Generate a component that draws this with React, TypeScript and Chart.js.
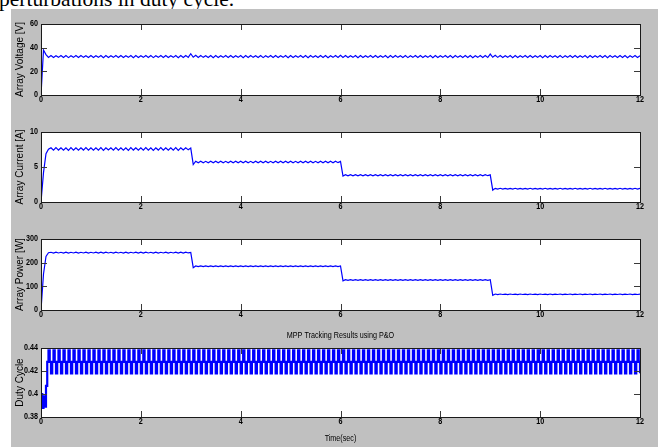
import React, { useEffect, useRef } from "react";
import { Chart, registerables } from "chart.js";

Chart.register(...registerables);

// ---------------- data ----------------
const TIME_STEP = 0.05; // seconds between samples of voltage/current/power
const DUTY_STEP = 0.025; // seconds between samples of duty cycle

const X_TICKS = [0, 2, 4, 6, 8, 10, 12];
const VOLT_TICKS = [0, 20, 40, 60];
const CURR_TICKS = [0, 5, 10];
const POW_TICKS = [0, 100, 200, 300];
const DUTY_TICKS = [0.38, 0.4, 0.42, 0.44];

const VOLTAGE = [
  0, 38.0, 34.2, 31.8, 33.3, 31.7, 33.2, 31.8, 33.4, 31.7, 33.3, 31.6, 33.2, 31.8, 33.3, 31.7, 33.4, 31.8, 33.2, 31.7,
  33.3, 31.7, 33.2, 31.8, 33.4, 31.6, 33.3, 31.7, 33.2, 31.8, 33.3, 31.7, 33.4, 31.7, 33.2, 31.8, 33.3, 31.6, 33.3, 31.7,
  33.2, 31.8, 33.4, 31.7, 33.3, 31.6, 33.2, 31.8, 33.3, 31.7, 33.4, 31.7, 33.2, 31.8, 33.3, 31.6, 33.3, 31.7, 33.4, 31.8,
  34.9, 31.9, 33.5, 31.7, 33.3, 31.8, 33.2, 31.7, 33.4, 31.6, 33.3, 31.7, 33.2, 31.8, 33.3, 31.7, 33.4, 31.7, 33.2, 31.8,
  33.3, 31.6, 33.3, 31.7, 33.4, 31.8, 33.2, 31.7, 33.3, 31.6, 33.2, 31.8, 33.4, 31.7, 33.3, 31.7, 33.2, 31.8, 33.3, 31.6,
  33.4, 31.7, 33.2, 31.8, 33.3, 31.7, 33.3, 31.6, 33.4, 31.8, 33.2, 31.7, 33.3, 31.7, 33.4, 31.6, 33.2, 31.8, 33.3, 31.7,
  33.6, 31.8, 33.3, 31.7, 33.2, 31.8, 33.4, 31.6, 33.3, 31.7, 33.2, 31.8, 33.3, 31.7, 33.4, 31.7, 33.2, 31.8, 33.3, 31.6,
  33.3, 31.7, 33.4, 31.8, 33.2, 31.7, 33.3, 31.6, 33.2, 31.8, 33.4, 31.7, 33.3, 31.7, 33.2, 31.8, 33.3, 31.6, 33.4, 31.7,
  33.2, 31.8, 33.3, 31.7, 33.3, 31.6, 33.4, 31.8, 33.2, 31.7, 33.3, 31.7, 33.4, 31.6, 33.2, 31.8, 33.3, 31.7, 33.3, 31.7,
  34.6, 31.9, 33.5, 31.8, 33.3, 31.7, 33.2, 31.8, 33.4, 31.6, 33.3, 31.7, 33.2, 31.8, 33.3, 31.7, 33.4, 31.7, 33.2, 31.8,
  33.3, 31.6, 33.3, 31.7, 33.4, 31.8, 33.2, 31.7, 33.3, 31.6, 33.2, 31.8, 33.4, 31.7, 33.3, 31.7, 33.2, 31.8, 33.3, 31.6,
  33.4, 31.7, 33.2, 31.8, 33.3, 31.7, 33.3, 31.6, 33.4, 31.8, 33.2, 31.7, 33.3, 31.7, 33.4, 31.6, 33.2, 31.8, 33.3, 31.7,
  33.2,
];

const CURRENT = [
  0, 4.2, 6.9, 7.55, 7.75, 7.4, 7.76, 7.42, 7.74, 7.4, 7.75, 7.38, 7.76, 7.41, 7.75, 7.4, 7.74, 7.42, 7.76, 7.4,
  7.75, 7.41, 7.74, 7.4, 7.76, 7.38, 7.75, 7.42, 7.74, 7.4, 7.76, 7.41, 7.75, 7.4, 7.74, 7.38, 7.76, 7.42, 7.75, 7.4,
  7.74, 7.41, 7.76, 7.4, 7.75, 7.38, 7.74, 7.42, 7.76, 7.4, 7.75, 7.41, 7.74, 7.4, 7.76, 7.38, 7.75, 7.42, 7.74, 7.45,
  7.7, 5.35, 5.82, 5.6, 5.83, 5.61, 5.81, 5.6, 5.82, 5.59, 5.83, 5.61, 5.82, 5.6, 5.81, 5.6, 5.83, 5.61, 5.82, 5.59,
  5.82, 5.6, 5.83, 5.61, 5.81, 5.6, 5.82, 5.59, 5.83, 5.61, 5.82, 5.6, 5.81, 5.6, 5.83, 5.61, 5.82, 5.59, 5.82, 5.6,
  5.83, 5.61, 5.81, 5.6, 5.82, 5.59, 5.83, 5.61, 5.82, 5.6, 5.81, 5.6, 5.83, 5.61, 5.82, 5.59, 5.82, 5.6, 5.83, 5.62,
  5.8, 3.7, 3.9, 3.74, 3.91, 3.75, 3.9, 3.74, 3.89, 3.75, 3.91, 3.74, 3.9, 3.75, 3.9, 3.74, 3.91, 3.75, 3.89, 3.74,
  3.9, 3.75, 3.91, 3.74, 3.9, 3.75, 3.89, 3.74, 3.91, 3.75, 3.9, 3.74, 3.9, 3.75, 3.91, 3.74, 3.89, 3.75, 3.9, 3.74,
  3.91, 3.75, 3.9, 3.74, 3.89, 3.75, 3.91, 3.74, 3.9, 3.75, 3.9, 3.74, 3.91, 3.75, 3.89, 3.74, 3.9, 3.75, 3.91, 3.76,
  3.88, 1.7, 1.95, 1.84, 1.96, 1.85, 1.95, 1.84, 1.94, 1.85, 1.96, 1.84, 1.95, 1.85, 1.95, 1.84, 1.96, 1.85, 1.94, 1.84,
  1.95, 1.85, 1.96, 1.84, 1.95, 1.85, 1.94, 1.84, 1.96, 1.85, 1.95, 1.84, 1.95, 1.85, 1.96, 1.84, 1.94, 1.85, 1.95, 1.84,
  1.96, 1.85, 1.95, 1.84, 1.94, 1.85, 1.96, 1.84, 1.95, 1.85, 1.95, 1.84, 1.96, 1.85, 1.94, 1.84, 1.95, 1.85, 1.96, 1.84,
  1.95,
];

const POWER = [
  0, 152, 226, 242, 244, 240.5, 244.5, 241, 244, 240.5, 244.5, 240.5, 244, 241, 244.5, 240.5, 244, 241, 244.5, 240.5,
  244, 241, 244.5, 240.5, 244, 240.5, 244.5, 241, 244, 240.5, 244.5, 241, 244, 240.5, 244.5, 240.5, 244, 241, 244.5, 240.5,
  244, 240.5, 244.5, 241, 244, 240.5, 244.5, 240.5, 244, 241, 244.5, 240.5, 244, 241, 244.5, 240.5, 244, 240.5, 244.5, 241,
  243, 179, 186, 183.5, 186.5, 183, 186, 183.5, 186.5, 183, 186, 183.5, 186.5, 183.5, 186, 183, 186.5, 183.5, 186, 183,
  186.5, 183.5, 186, 183, 186.5, 183.5, 186, 183.5, 186.5, 183, 186, 183.5, 186.5, 183, 186, 183.5, 186.5, 183.5, 186, 183,
  186.5, 183.5, 186, 183, 186.5, 183.5, 186, 183.5, 186.5, 183, 186, 183.5, 186.5, 183, 186, 183.5, 186.5, 183.5, 186, 183.5,
  186, 123, 128, 125.5, 128.5, 125.5, 128, 125, 128.5, 125.5, 128, 125.5, 128.5, 125, 128, 125.5, 128.5, 125.5, 128, 125,
  128.5, 125.5, 128, 125.5, 128.5, 125, 128, 125.5, 128.5, 125.5, 128, 125, 128.5, 125.5, 128, 125.5, 128.5, 125, 128, 125.5,
  128.5, 125.5, 128, 125, 128.5, 125.5, 128, 125.5, 128.5, 125, 128, 125.5, 128.5, 125.5, 128, 125, 128.5, 125.5, 128, 125.5,
  128, 62, 67.5, 65, 67.5, 65.5, 67, 65, 67.5, 65.5, 67, 65, 67.5, 65.5, 67, 65, 67.5, 65.5, 67, 65,
  67.5, 65.5, 67, 65, 67.5, 65, 67, 65.5, 67.5, 65, 67, 65.5, 67.5, 65, 67, 65.5, 67.5, 65, 67, 65.5,
  67.5, 65, 67, 65.5, 67.5, 65, 67, 65.5, 67.5, 65, 67, 65.5, 67.5, 65, 67, 65.5, 67.5, 65, 67, 65.5,
  67,
];

const DUTY = [
  0.4, 0.388, 0.398, 0.389, 0.407, 0.428, 0.438, 0.428, 0.418, 0.428, 0.438, 0.428, 0.418, 0.428, 0.438, 0.428, 0.418, 0.428, 0.438, 0.428,
  0.418, 0.428, 0.438, 0.428, 0.418, 0.428, 0.438, 0.428, 0.418, 0.428, 0.438, 0.428, 0.418, 0.428, 0.438, 0.428, 0.418, 0.428, 0.438, 0.428,
  0.418, 0.428, 0.438, 0.428, 0.418, 0.428, 0.438, 0.428, 0.418, 0.428, 0.438, 0.428, 0.418, 0.428, 0.438, 0.428, 0.418, 0.428, 0.438, 0.428,
  0.418, 0.428, 0.438, 0.428, 0.418, 0.428, 0.438, 0.428, 0.418, 0.428, 0.438, 0.428, 0.418, 0.428, 0.438, 0.428, 0.418, 0.428, 0.438, 0.428,
  0.418, 0.428, 0.438, 0.428, 0.418, 0.428, 0.438, 0.428, 0.418, 0.428, 0.438, 0.428, 0.418, 0.428, 0.438, 0.428, 0.418, 0.428, 0.438, 0.428,
  0.418, 0.428, 0.438, 0.428, 0.418, 0.428, 0.438, 0.428, 0.418, 0.428, 0.438, 0.428, 0.418, 0.428, 0.438, 0.428, 0.418, 0.428, 0.438, 0.428,
  0.418, 0.428, 0.438, 0.428, 0.418, 0.428, 0.438, 0.428, 0.418, 0.428, 0.438, 0.428, 0.418, 0.428, 0.438, 0.428, 0.418, 0.428, 0.438, 0.428,
  0.418, 0.428, 0.438, 0.428, 0.418, 0.428, 0.438, 0.428, 0.418, 0.428, 0.438, 0.428, 0.418, 0.428, 0.438, 0.428, 0.418, 0.428, 0.438, 0.428,
  0.418, 0.428, 0.438, 0.428, 0.418, 0.428, 0.438, 0.428, 0.418, 0.428, 0.438, 0.428, 0.418, 0.428, 0.438, 0.428, 0.418, 0.428, 0.438, 0.428,
  0.418, 0.428, 0.438, 0.428, 0.418, 0.428, 0.438, 0.428, 0.418, 0.428, 0.438, 0.428, 0.418, 0.428, 0.438, 0.428, 0.418, 0.428, 0.438, 0.428,
  0.418, 0.428, 0.438, 0.428, 0.418, 0.428, 0.438, 0.428, 0.418, 0.428, 0.438, 0.428, 0.418, 0.428, 0.438, 0.428, 0.418, 0.428, 0.438, 0.428,
  0.418, 0.428, 0.438, 0.428, 0.418, 0.428, 0.438, 0.428, 0.418, 0.428, 0.438, 0.428, 0.418, 0.428, 0.438, 0.428, 0.418, 0.428, 0.438, 0.428,
  0.418, 0.428, 0.438, 0.428, 0.418, 0.428, 0.438, 0.428, 0.418, 0.428, 0.438, 0.428, 0.418, 0.428, 0.438, 0.428, 0.418, 0.428, 0.438, 0.428,
  0.418, 0.428, 0.438, 0.428, 0.418, 0.428, 0.438, 0.428, 0.418, 0.428, 0.438, 0.428, 0.418, 0.428, 0.438, 0.428, 0.418, 0.428, 0.438, 0.428,
  0.418, 0.428, 0.438, 0.428, 0.418, 0.428, 0.438, 0.428, 0.418, 0.428, 0.438, 0.428, 0.418, 0.428, 0.438, 0.428, 0.418, 0.428, 0.438, 0.428,
  0.418, 0.428, 0.438, 0.428, 0.418, 0.428, 0.438, 0.428, 0.418, 0.428, 0.438, 0.428, 0.418, 0.428, 0.438, 0.428, 0.418, 0.428, 0.438, 0.428,
  0.418, 0.428, 0.438, 0.428, 0.418, 0.428, 0.438, 0.428, 0.418, 0.428, 0.438, 0.428, 0.418, 0.428, 0.438, 0.428, 0.418, 0.428, 0.438, 0.428,
  0.418, 0.428, 0.438, 0.428, 0.418, 0.428, 0.438, 0.428, 0.418, 0.428, 0.438, 0.428, 0.418, 0.428, 0.438, 0.428, 0.418, 0.428, 0.438, 0.428,
  0.418, 0.428, 0.438, 0.428, 0.418, 0.428, 0.438, 0.428, 0.418, 0.428, 0.438, 0.428, 0.418, 0.428, 0.438, 0.428, 0.418, 0.428, 0.438, 0.428,
  0.418, 0.428, 0.438, 0.428, 0.418, 0.428, 0.438, 0.428, 0.418, 0.428, 0.438, 0.428, 0.418, 0.428, 0.438, 0.428, 0.418, 0.428, 0.438, 0.428,
  0.418, 0.428, 0.438, 0.428, 0.418, 0.428, 0.438, 0.428, 0.418, 0.428, 0.438, 0.428, 0.418, 0.428, 0.438, 0.428, 0.418, 0.428, 0.438, 0.428,
  0.418, 0.428, 0.438, 0.428, 0.418, 0.428, 0.438, 0.428, 0.418, 0.428, 0.438, 0.428, 0.418, 0.428, 0.438, 0.428, 0.418, 0.428, 0.438, 0.428,
  0.418, 0.428, 0.438, 0.428, 0.418, 0.428, 0.438, 0.428, 0.418, 0.428, 0.438, 0.428, 0.418, 0.428, 0.438, 0.428, 0.418, 0.428, 0.438, 0.428,
  0.418, 0.428, 0.438, 0.428, 0.418, 0.428, 0.438, 0.428, 0.418, 0.428, 0.438, 0.428, 0.418, 0.428, 0.438, 0.428, 0.418, 0.428, 0.438, 0.428,
  0.418,
];

const Y_TITLES = ["Array Voltage [V]", "Array Current [A]", "Array Power [W]", "Duty Cycle"];
const PLOT_TITLE = "MPP Tracking Results using P&O";
const X_TITLE = "Time(sec)";
const HEADER_TEXT = "perturbations in duty cycle.";

// ---------------- layout / style ----------------
const SANS = 'Arial, "Liberation Sans", sans-serif';
const TICK_FONT = 'bold 9px Arial, "Liberation Sans", sans-serif';
const LABEL_FONT = '9px Arial, "Liberation Sans", sans-serif';
const NARROW_SCALE = 0.8;
const FIG_LEFT = 11;
const FIG_TOP = 9;
const FIG_RIGHT = 658;
const AX_LEFT = 41;
const AX_RIGHT = 640;
const Y_SCALE_W = 28;

type Panel = {
  values: number[];
  step: number;
  yTicks: number[];
  yTitle: string;
  axTop: number;
  axBottom: number;
  stepped?: boolean;
  title?: string;
  xTitle?: string;
  lineWidth: number;
};

const PANELS: Panel[] = [
  { values: VOLTAGE, step: TIME_STEP, yTicks: VOLT_TICKS, yTitle: Y_TITLES[0], axTop: 24, axBottom: 95, lineWidth: 1.2 },
  { values: CURRENT, step: TIME_STEP, yTicks: CURR_TICKS, yTitle: Y_TITLES[1], axTop: 132, axBottom: 202, lineWidth: 1.2 },
  { values: POWER, step: TIME_STEP, yTicks: POW_TICKS, yTitle: Y_TITLES[2], axTop: 239, axBottom: 310, lineWidth: 1.2 },
  {
    values: DUTY, step: DUTY_STEP, yTicks: DUTY_TICKS, yTitle: Y_TITLES[3], axTop: 348, axBottom: 417,
    stepped: true, title: PLOT_TITLE, xTitle: X_TITLE, lineWidth: 2.2,
  },
];

function drawNarrowText(ctx: CanvasRenderingContext2D, text: string, x: number, y: number, align: CanvasTextAlign, font: string) {
  ctx.save();
  ctx.translate(x, y);
  ctx.scale(NARROW_SCALE, 1);
  ctx.font = font;
  ctx.textAlign = align;
  ctx.textBaseline = "middle";
  ctx.fillStyle = "#000";
  ctx.fillText(text, 0, 0);
  ctx.restore();
}

const matlabAxes = {
  id: "matlabAxes",
  beforeDraw(chart: any) {
    const { ctx, chartArea: a } = chart;
    ctx.save();
    ctx.fillStyle = "#ffffff";
    ctx.fillRect(a.left, a.top, a.right - a.left, a.bottom - a.top);
    ctx.restore();
  },
  afterDatasetsDraw(chart: any, _args: any, opts: any) {
    const { ctx, chartArea: a, scales } = chart;
    const len = 6;
    ctx.save();
    ctx.strokeStyle = "#3a3a3a";
    ctx.lineWidth = 1;
    ctx.beginPath();
    for (const t of scales.x.ticks) {
      const px = Math.round(scales.x.getPixelForValue(t.value)) + 0.5;
      ctx.moveTo(px, a.bottom);
      ctx.lineTo(px, a.bottom - len);
      ctx.moveTo(px, a.top);
      ctx.lineTo(px, a.top + len);
    }
    for (const t of scales.y.ticks) {
      const py = Math.round(scales.y.getPixelForValue(t.value)) + 0.5;
      ctx.moveTo(a.left, py);
      ctx.lineTo(a.left + len, py);
      ctx.moveTo(a.right, py);
      ctx.lineTo(a.right - len, py);
    }
    ctx.stroke();
    ctx.strokeStyle = "#1a1a1a";
    ctx.strokeRect(
      Math.round(a.left) + 0.5,
      Math.round(a.top) + 0.5,
      Math.round(a.right) - Math.round(a.left),
      Math.round(a.bottom) - Math.round(a.top)
    );
    ctx.restore();

    // tick labels (condensed, bold, like the MATLAB figure)
    for (const t of scales.x.ticks) {
      const px = scales.x.getPixelForValue(t.value);
      drawNarrowText(ctx, String(t.value), px, a.bottom + 5, "center", TICK_FONT);
    }
    for (const t of scales.y.ticks) {
      const py = scales.y.getPixelForValue(t.value);
      drawNarrowText(ctx, String(t.value), a.left - 3, py, "right", TICK_FONT);
    }
    const cx = (a.left + a.right) / 2;
    if (opts && opts.title) drawNarrowText(ctx, opts.title, cx, a.top - 12, "center", LABEL_FONT);
    if (opts && opts.xTitle) drawNarrowText(ctx, opts.xTitle, cx, a.bottom + 22, "center", LABEL_FONT);
  },
};

function PanelChart({ p }: { p: Panel }) {
  const ref = useRef<HTMLCanvasElement | null>(null);
  const padTop = p.title ? 24 : 12;
  const xH = p.xTitle ? 30 : 26;
  const width = FIG_RIGHT - FIG_LEFT;
  const top = p.axTop - padTop;
  const height = padTop + (p.axBottom - p.axTop) + xH;

  useEffect(() => {
    if (!ref.current) return;
    const yMin = p.yTicks[0];
    const yMax = p.yTicks[p.yTicks.length - 1];
    const chart = new Chart(ref.current, {
      type: "line",
      data: {
        datasets: [
          {
            data: p.values.map((y, i) => ({ x: i * p.step, y })),
            borderColor: "#0000ff",
            borderWidth: p.lineWidth,
            pointRadius: 0,
            fill: false,
            tension: 0,
            stepped: p.stepped ? "before" : false,
          } as any,
        ],
      },
      options: {
        animation: false,
        responsive: false,
        events: [],
        layout: {
          padding: {
            left: AX_LEFT - FIG_LEFT - Y_SCALE_W,
            right: FIG_RIGHT - AX_RIGHT,
            top: padTop,
            bottom: 0,
          },
        },
        plugins: {
          legend: { display: false },
          tooltip: { enabled: false },
          title: { display: false },
          matlabAxes: { title: p.title, xTitle: p.xTitle },
        },
        scales: {
          x: {
            type: "linear",
            min: 0,
            max: 12,
            afterBuildTicks: (s: any) => {
              s.ticks = X_TICKS.map((v) => ({ value: v }));
            },
            afterFit: (s: any) => {
              s.height = xH;
            },
            grid: { display: false, drawTicks: false },
            border: { display: false },
            ticks: { display: false },
          },
          y: {
            type: "linear",
            min: yMin,
            max: yMax,
            afterBuildTicks: (s: any) => {
              s.ticks = p.yTicks.map((v) => ({ value: v }));
            },
            afterFit: (s: any) => {
              s.width = Y_SCALE_W;
            },
            grid: { display: false, drawTicks: false },
            border: { display: false },
            ticks: { display: false },
            title: {
              display: true,
              text: p.yTitle,
              color: "#000",
              font: { family: SANS, size: 10 },
              padding: { top: 1.5, bottom: 0 },
            },
          },
        },
      } as any,
      plugins: [matlabAxes],
    });
    return () => chart.destroy();
  }, []);

  return (
    <canvas
      ref={ref}
      width={width}
      height={height}
      style={{ position: "absolute", left: FIG_LEFT, top, width, height }}
    />
  );
}

export default function App() {
  return (
    <div
      style={{
        position: "fixed",
        left: 0,
        top: 0,
        width: 668,
        height: 447,
        overflow: "hidden",
        background: "#ffffff",
      }}
    >
      <div
        style={{
          position: "absolute",
          left: -1,
          top: -11,
          fontFamily: '"Liberation Serif", "Times New Roman", serif',
          fontSize: 21.5,
          lineHeight: 1,
          color: "#000",
          whiteSpace: "nowrap",
        }}
      >
        {HEADER_TEXT}
      </div>
      <div
        style={{
          position: "absolute",
          left: FIG_LEFT,
          top: FIG_TOP,
          width: FIG_RIGHT - FIG_LEFT,
          height: 447 - FIG_TOP,
          background: "#c0c0c0",
        }}
      />
      {PANELS.map((p, i) => (
        <PanelChart key={i} p={p} />
      ))}
    </div>
  );
}
